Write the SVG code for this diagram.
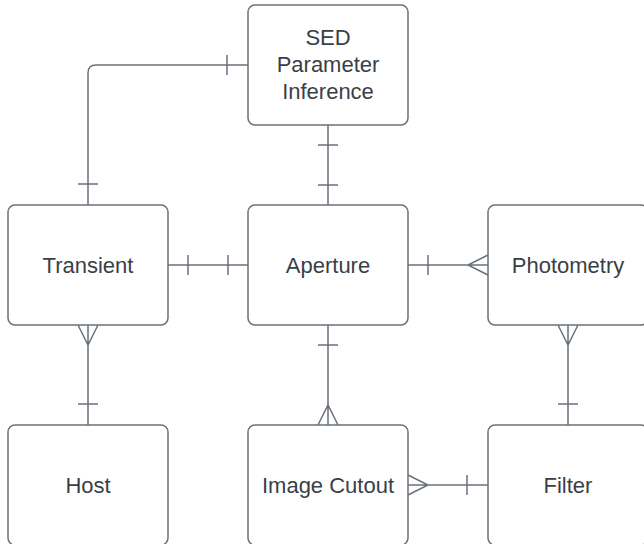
<svg xmlns="http://www.w3.org/2000/svg" width="644" height="544" viewBox="0 0 644 544">
<style>
.box{fill:#ffffff;stroke:#6b717b;stroke-width:1.5}
.ln{fill:none;stroke:#6b717b;stroke-width:1.5}
.t{font-family:"Liberation Sans",Arial,sans-serif;font-size:22px;fill:#3a3f47;text-anchor:middle;dominant-baseline:central}
</style>
<rect width="644" height="544" fill="#ffffff"/>
<g id="connectors">
<path class="ln" d="M248 65 H96 Q88 65 88 73 V205"/>
<path class="ln" d="M227 55 V75 M78 184 H98"/>
<path class="ln" d="M328 125 V205 M318 145 H338 M318 185 H338"/>
<path class="ln" d="M168 265 H248 M188 255 V275 M228 255 V275"/>
<path class="ln" d="M408 265 H488 M428 255 V275 M488 255 L468 265 L488 275"/>
<path class="ln" d="M88 325 V425 M78 325 L88 345 L98 325 M78 404 H98"/>
<path class="ln" d="M328 325 V425 M318 345 H338 M318 425 L328 405 L338 425"/>
<path class="ln" d="M408 485 H488 M408 475 L428 485 L408 495 M467 475 V495"/>
<path class="ln" d="M568 325 V425 M558 325 L568 345 L578 325 M558 404 H578"/>
</g>
<g id="sed"><rect class="box" x="248" y="5" width="160" height="120" rx="7"/>
<text class="t" x="328" y="37">SED</text><text class="t" x="328" y="64">Parameter</text><text class="t" x="328" y="91">Inference</text></g>
<g id="transient"><rect class="box" x="8" y="205" width="160" height="120" rx="7"/><text class="t" x="88" y="265">Transient</text></g>
<g id="aperture"><rect class="box" x="248" y="205" width="160" height="120" rx="7"/><text class="t" x="328" y="265">Aperture</text></g>
<g id="photometry"><rect class="box" x="488" y="205" width="160" height="120" rx="7"/><text class="t" x="568" y="265">Photometry</text></g>
<g id="host"><rect class="box" x="8" y="425" width="160" height="120" rx="7"/><text class="t" x="88" y="485">Host</text></g>
<g id="imagecutout"><rect class="box" x="248" y="425" width="160" height="120" rx="7"/><text class="t" x="328" y="485">Image Cutout</text></g>
<g id="filter"><rect class="box" x="488" y="425" width="160" height="120" rx="7"/><text class="t" x="568" y="485">Filter</text></g>
</svg>
